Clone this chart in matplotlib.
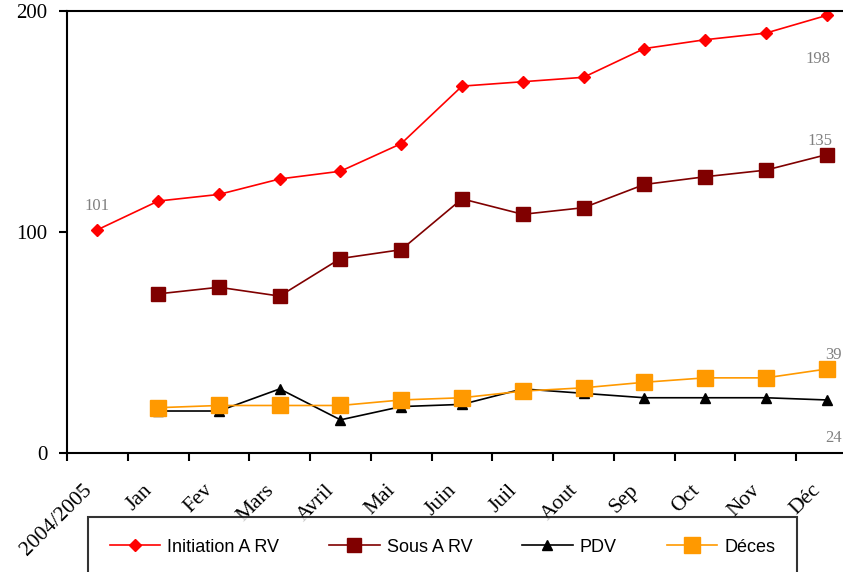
import numpy as np
import matplotlib.pyplot as plt

# Suivi mensuel ARV
mois = ["2004/2005", "Jan", "Fev", "Mars", "Avril", "Mai", "Juin",
        "Juil", "Aout", "Sep", "Oct", "Nov", "Déc"]

initiation = [101, 114, 117, 124, 127.5, 140, 166, 168, 170, 183, 187, 190, 198]
sous_arv = [np.nan, 72, 75, 71, 88, 92, 115, 108, 111, 121.5, 125, 128, 135]
pdv = [np.nan, 19, 19, 29, 15, 21, 22, 29, 27, 25, 25, 25, 24]
deces = [np.nan, 20.5, 21.5, 21.5, 21.5, 24, 25, 28, 29.5, 32, 34, 34, 38]

x = np.arange(len(mois))

fig = plt.figure(figsize=(8.43, 5.72), dpi=100)
ax = fig.add_axes([67 / 843, 1 - 453 / 572, 790 / 843, 442 / 572])

ax.plot(x, initiation, color="#FF0000", marker="D", markersize=6.5, lw=1.2, label="Initiation A RV")
ax.plot(x, sous_arv, color="#800000", marker="s", markersize=9.5, lw=1.2, label="Sous A RV")
ax.plot(x, pdv, color="black", marker="^", markersize=7.5, lw=1.2, label="PDV")
ax.plot(x, deces, color="#FF9900", marker="s", markersize=11, lw=1.2, label="Déces")

# etiquettes de valeurs
lab = dict(color="#808080", family="Liberation Serif", fontsize=12)
ax.annotate("101", (0, initiation[0]), xytext=(0, 14), textcoords="offset points", ha="center", **lab)
ax.annotate("198", (12, initiation[12]), xytext=(-6, -34), textcoords="offset points", ha="center", **lab)
ax.annotate("135", (12, sous_arv[12]), xytext=(-5, 7), textcoords="offset points", ha="center", **lab)
ax.annotate("39", (12, deces[12]), xytext=(5, 7), textcoords="offset points", ha="center", **lab)
ax.annotate("24", (12, pdv[12]), xytext=(5, -30), textcoords="offset points", ha="center", **lab)

ax.set_xlim(-0.5, 12.5)
ax.set_ylim(0, 200)
ax.set_yticks([0, 100, 200])
ax.set_yticklabels(["0", "100", "200"], family="Liberation Serif", fontsize=15)
# libelles un peu decales vers la gauche, comme dans Excel
ax.set_xticks(x - 0.25)
ax.set_xticklabels(mois, family="Liberation Serif", fontsize=15.5, rotation=45,
                   ha="right", rotation_mode="anchor")
ax.set_xticks(np.arange(-0.5, 12.6, 1), minor=True)
ax.tick_params(axis="x", which="major", length=0, pad=20)
ax.tick_params(axis="x", which="minor", length=6, width=1.5, direction="out")
ax.tick_params(axis="y", length=6, width=1.5, direction="out", pad=8)
for s in ax.spines.values():
    s.set_linewidth(1.5)

leg = fig.legend(loc="upper left", bbox_to_anchor=(88 / 843, 1 - 517 / 572), ncol=4,
                 frameon=True, fancybox=False, edgecolor="black", borderpad=1.2,
                 borderaxespad=0, columnspacing=2.75, handlelength=2.8, handletextpad=0.4,
                 prop={"family": "Liberation Sans", "size": 13})
leg.get_frame().set_linewidth(1.5)

fig.savefig("out.png", dpi=100)
